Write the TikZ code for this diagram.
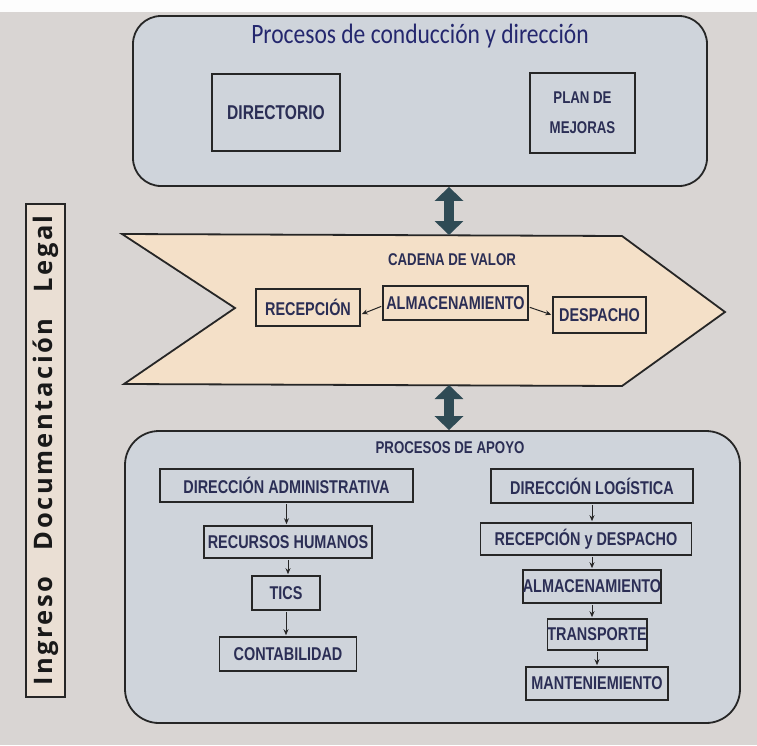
\documentclass[tikz,border=0pt]{standalone}
\usepackage{fontspec}
\usepackage{tikz}
\usetikzlibrary{arrows.meta}
\usetikzlibrary{positioning}
\newfontfamily\boxfont[FakeStretch=0.78]{Liberation Sans}
\newfontfamily\titlefont[FakeStretch=0.84]{Carlito}
\newfontfamily\sidefont[LetterSpace=10]{Open Sans}
\definecolor{paper}{HTML}{D9D5D3}
\definecolor{panelfill}{HTML}{CFD4DB}
\definecolor{chainfill}{HTML}{F4E0C8}
\definecolor{sidefill}{HTML}{EADFD4}
\definecolor{inkline}{HTML}{262626}
\definecolor{navy}{HTML}{2B2E55}
\definecolor{arrowcol}{HTML}{2F4B55}
\tikzset{panel/.style = {draw=inkline, line width=1.8pt, fill=panelfill, rounded corners=#1},
         panel/.default = 28pt,
         box/.style = {draw=inkline, line width=1.6pt, text=navy, inner sep=0pt,
                       font=\boxfont\bfseries\fontsize{18.5}{26}\selectfont, align=center},
         heading/.style = {text=navy, font=\boxfont\bfseries\fontsize{17}{20}\selectfont},
         flow/.style = {draw=inkline, line width=1pt, -{Stealth[length=6pt, width=5pt]},
                        shorten <=1pt, shorten >=1pt},
         bigarrow/.style = {draw=arrowcol, line width=10pt,
                            {Triangle[length=14pt, width=28pt]}-{Triangle[length=14pt, width=28pt]}}}

\begin{document}
\begin{tikzpicture}[x=1pt, y=-1pt]
    \useasboundingbox (0, 0) rectangle (757, 745);
    \fill[paper] (0, 0) rectangle (757, 745);
    \fill[white!95!paper] (0, 0) rectangle (757, 12);

    % side label
    \node[draw=inkline, line width=1.6pt, fill=sidefill, minimum width=39pt, minimum height=493pt,
          inner sep=0pt] (legalbox) at (45.5, 450.5) {};
    \node[rotate=90, font=\sidefont\bfseries\fontsize{25.5}{28}\selectfont, text=black!90]
        (legal) at (legalbox.center)
        {Ingreso\hspace{26pt}Documentación\hspace{26pt}Legal};

    % conduccion y direccion
    \node[panel, minimum width=574pt, minimum height=170pt] (conduccion) at (420, 101) {};
    \node[text=navy!85!blue, font=\titlefont\fontsize{28}{32}\selectfont, anchor=base]
        (conductitle) at (420, 43) {Procesos de conducción y dirección};
    \node[box, font=\boxfont\bfseries\fontsize{20}{26}\selectfont, minimum width=128pt,
          minimum height=77pt] (directorio) at (276, 112.5) {DIRECTORIO};
    \node[box, font=\boxfont\bfseries\fontsize{17}{30}\selectfont, minimum width=105pt,
          minimum height=80pt] (mejoras) at (582.5, 113) {PLAN DE\\MEJORAS};

    % cadena de valor
    \coordinate (cvtop) at (449, 235);
    \coordinate (cvbot) at (449, 385);
    \draw[fill=chainfill, draw=inkline, line width=1.8pt, line join=miter]
        (122, 234) -- (622, 236) -- (725, 312) -- (622, 386) -- (124, 384) -- (235, 308) -- cycle;
    \node[heading] (cadena) at (452, 260) {CADENA DE VALOR};
    \node[box, minimum width=104pt, minimum height=37pt] (recepcion) at (308, 307.5) {RECEPCIÓN};
    \node[box, minimum width=145pt, minimum height=34pt] (almacen) at (455.5, 303) {ALMACENAMIENTO};
    \node[box, minimum width=93pt, minimum height=36pt] (despacho) at (599.5, 315) {DESPACHO};
    \draw[flow] ([yshift=-3pt]almacen.west) -- ([yshift=-7pt]recepcion.east);
    \draw[flow] ([yshift=-4pt]almacen.east) -- (despacho.west);

    \draw[bigarrow] (conduccion.south -| cvtop) -- (cvtop);

    % procesos de apoyo
    \node[panel=34pt, minimum width=615pt, minimum height=292pt] (apoyo) at (432.5, 577) {};
    \draw[bigarrow] (cvbot) -- (apoyo.north -| cvbot);
    \node[heading] (apoyotitle) at (450, 448) {PROCESOS DE APOYO};

    \node[box, minimum width=253pt, minimum height=33pt] (diradm) at (286.5, 485.5) {DIRECCIÓN ADMINISTRATIVA};
    \node[box, minimum width=168pt, minimum height=32pt] (rrhh) at (288, 542) {RECURSOS HUMANOS};
    \node[box, minimum width=68pt, minimum height=34pt] (tics) at (286, 593) {TICS};
    \node[box, minimum width=137pt, minimum height=34pt] (conta) at (288, 654) {CONTABILIDAD};
    \draw[flow] (diradm.south) -- (diradm.south |- rrhh.north);
    \draw[flow] (rrhh.south) -- (rrhh.south |- tics.north);
    \draw[flow] (tics.south) -- (tics.south |- conta.north);

    \node[box, minimum width=202pt, minimum height=34pt] (dirlog) at (592, 486) {DIRECCIÓN LOGÍSTICA};
    \node[box, minimum width=211pt, minimum height=32pt] (recdesp) at (586, 539) {RECEPCIÓN y DESPACHO};
    \node[box, minimum width=138pt, minimum height=33pt] (almacen2) at (592, 586.5) {ALMACENAMIENTO};
    \node[box, minimum width=89pt, minimum height=31pt] (transporte) at (597, 634.5) {TRANSPORTE};
    \node[box, minimum width=142pt, minimum height=33pt] (manten) at (597, 683.5) {MANTENIEMIENTO};
    \draw[flow] (dirlog.south) -- (dirlog.south |- recdesp.north);
    \draw[flow] (recdesp.south -| almacen2.north) -- (almacen2.north);
    \draw[flow] (almacen2.south) -- (almacen2.south |- transporte.north);
    \draw[flow] (transporte.south) -- (transporte.south |- manten.north);
\end{tikzpicture}
\end{document}
